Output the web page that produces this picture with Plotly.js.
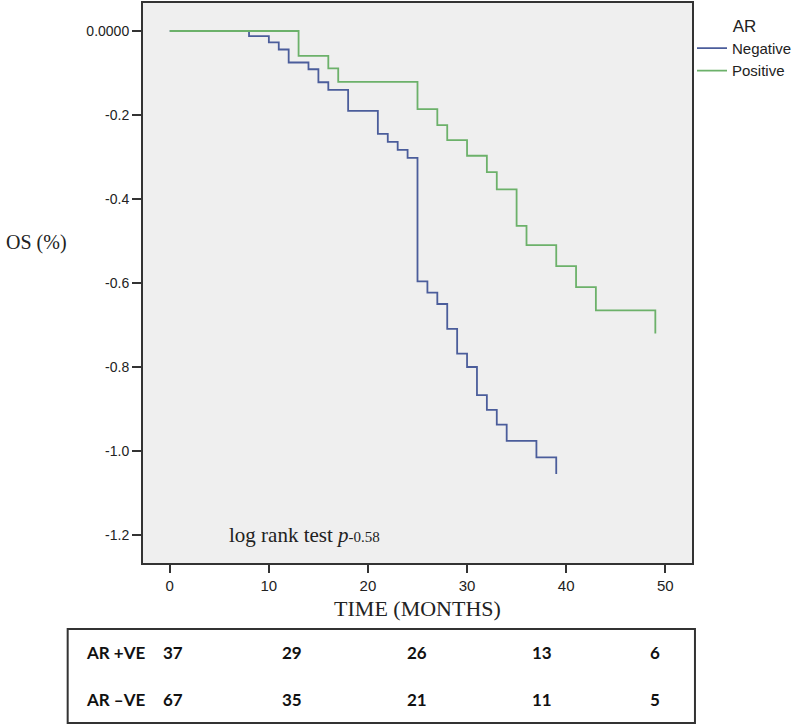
<!DOCTYPE html>
<html>
<head>
<meta charset="utf-8">
<script src="https://cdn.plot.ly/plotly-3.0.1.min.js"></script>
<style>html,body{margin:0;padding:0;background:#fff;}#chart{width:800px;height:727px;}</style>
</head>
<body>
<div id="chart"></div>
<script>
// ---- data ----
var negTime = [0, 8, 10, 11, 12, 14, 15, 16, 18, 21, 22, 23, 24, 25, 26, 27, 28, 29, 30, 31, 32, 33, 34, 37, 39];
var negOS   = [0, -0.012, -0.027, -0.044, -0.075, -0.091, -0.122, -0.140, -0.190, -0.245, -0.264, -0.283, -0.302,
               -0.596, -0.623, -0.650, -0.709, -0.768, -0.800, -0.867, -0.902, -0.937, -0.976, -1.015, -1.055];
var posTime = [0, 13, 16, 17, 25, 27, 28, 30, 32, 33, 35, 36, 39, 41, 43, 49];
var posOS   = [0, -0.059, -0.089, -0.121, -0.186, -0.224, -0.260, -0.297, -0.336, -0.377, -0.464, -0.510,
               -0.560, -0.610, -0.665, -0.720];
var seriesNames = ['Negative', 'Positive'];
var xTickVals = [0, 10, 20, 30, 40, 50];
var yTickVals = [0, -0.2, -0.4, -0.6, -0.8, -1.0, -1.2];
var yTickText = ['0.0000', '-0.2', '-0.4', '-0.6', '-0.8', '-1.0', '-1.2'];
var riskRowLabels = ['AR +VE', 'AR \u2013VE'];
var riskPos = [37, 29, 26, 13, 6];
var riskNeg = [67, 35, 21, 11, 5];

// ---- layout constants ----
var riskColX = [0.0542, 0.2708, 0.4982, 0.7274, 0.9332];
var riskRowY = [-0.159, -0.243];
var tableFont = {family: 'Lato, "Open Sans", sans-serif', size: 17, color: '#111'};
var serif = '"Liberation Serif", "Times New Roman", serif';
var sans = '"Liberation Sans", Arial, sans-serif';

var traces = [
  {x: negTime, y: negOS, name: seriesNames[0], type: 'scatter', mode: 'lines',
   line: {shape: 'hv', color: '#4b5d9b', width: 1.8}},
  {x: posTime, y: posOS, name: seriesNames[1], type: 'scatter', mode: 'lines',
   line: {shape: 'hv', color: '#6cb16a', width: 1.8}}
];

var annotations = [
  {xref: 'paper', yref: 'paper', x: 0.1534, y: 0.05, xanchor: 'left', yanchor: 'middle', showarrow: false,
   text: 'log rank test <i>p</i><span style="font-size:15px">-0.58</span>',
   font: {family: serif, size: 21, color: '#222'}},
  {xref: 'paper', yref: 'paper', x: -0.2527, y: 0.573, xanchor: 'left', yanchor: 'middle', showarrow: false,
   text: 'OS (%)', font: {family: serif, size: 20, color: '#222'}}
];
riskRowLabels.forEach(function (lab, r) {
  annotations.push({xref: 'paper', yref: 'paper', x: -0.1083, y: riskRowY[r], xanchor: 'left', yanchor: 'middle',
    showarrow: false, text: '<b>' + lab + '</b>', font: tableFont});
});
[riskPos, riskNeg].forEach(function (row, r) {
  row.forEach(function (v, c) {
    annotations.push({xref: 'paper', yref: 'paper', x: riskColX[c], y: riskRowY[r], xanchor: 'center', yanchor: 'middle',
      showarrow: false, text: '<b>' + v + '</b>', font: tableFont});
  });
});

var layout = {
  width: 800, height: 727,
  margin: {l: 143, r: 103, t: 3, b: 164},
  paper_bgcolor: '#ffffff',
  plot_bgcolor: '#efefef',
  showlegend: true,
  legend: {x: 1.0, xanchor: 'left', y: 0.988, yanchor: 'top', bgcolor: 'rgba(0,0,0,0)',
    font: {family: sans, size: 15, color: '#222'},
    title: {text: 'AR', side: 'top center', font: {family: sans, size: 17, color: '#222'}},
    tracegroupgap: 0, itemwidth: 30},
  xaxis: {
    range: [-2.7, 52.7], tickvals: xTickVals, ticks: 'outside', ticklen: 8, tickwidth: 2, tickcolor: '#333',
    showgrid: false, zeroline: false, showline: true, linecolor: '#333', linewidth: 2, mirror: true,
    tickfont: {family: sans, size: 15, color: '#222'},
    title: {text: 'TIME (MONTHS)', standoff: 8, font: {family: serif, size: 22, color: '#222'}}
  },
  yaxis: {
    range: [-1.2667, 0.0667], tickvals: yTickVals, ticktext: yTickText, ticks: 'outside', ticklen: 9, tickwidth: 2,
    tickcolor: '#333', showgrid: false, zeroline: false, showline: true, linecolor: '#333', linewidth: 2, mirror: true,
    tickfont: {family: sans, size: 14, color: '#222'}
  },
  shapes: [
    {type: 'rect', xref: 'paper', yref: 'paper', x0: -0.1372, x1: 1.0054, y0: -0.1179, y1: -0.2857,
     line: {color: '#333', width: 2}, fillcolor: 'rgba(0,0,0,0)'}
  ],
  annotations: annotations
};

Plotly.newPlot('chart', traces, layout, {displayModeBar: false, staticPlot: true});
</script>
</body>
</html>
